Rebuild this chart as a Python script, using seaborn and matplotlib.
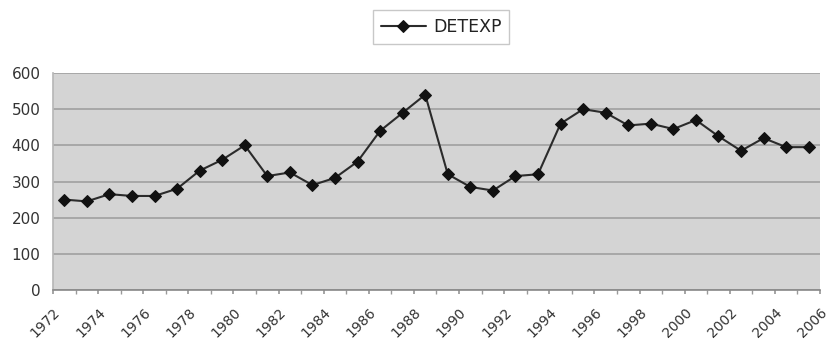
import matplotlib
matplotlib.use("Agg")
import matplotlib.pyplot as plt
import seaborn as sns
import pandas as pd
import numpy as np

years = list(range(1972, 2006))
detexp = [250, 245, 265, 260, 260, 280, 330, 360, 400, 315, 325, 290, 310, 355,
          440, 490, 540, 320, 285, 275, 315, 320, 460, 500, 490, 455, 460, 445,
          470, 425, 385, 420, 395, 395]
tick_years = list(range(1972, 2007, 2))
y_ticks = [0, 100, 200, 300, 400, 500, 600]

df = pd.DataFrame({"idx": np.arange(len(years)), "year": years, "DETEXP": detexp})

sns.set_theme(style="white")
plt.rcParams["font.family"] = ["DejaVu Sans"]

fig = plt.figure(figsize=(8.29, 3.47), dpi=100)
ax = fig.add_axes([53 / 829, 1 - 290 / 347, (820 - 53) / 829, (290 - 73) / 347])
ax.set_facecolor("#d4d4d4")

sns.lineplot(data=df, x="idx", y="DETEXP", ax=ax, color="#2b2b2b", linewidth=1.5,
             marker="D", markersize=6, markeredgecolor="#111111",
             markerfacecolor="#111111", label="DETEXP")

ax.set_xlim(-0.5, len(years) - 0.5)
ax.set_ylim(0, 600)
ax.set_yticks(y_ticks)
ax.set_yticklabels([str(v) for v in y_ticks], fontsize=11, color="#333333")
ax.yaxis.grid(True, color="#a4a4a4", linewidth=1.3)
ax.set_axisbelow(True)

tick_pos = [-0.5 + 2 * k for k in range(len(tick_years))]
ax.set_xticks(tick_pos)
ax.set_xticklabels([str(y) for y in tick_years], rotation=45, ha="right",
                   va="top", rotation_mode="anchor", fontsize=10, color="#333333")
ax.set_xticks(np.arange(-0.5, len(years), 1), minor=True)
ax.tick_params(axis="x", which="both", length=3, color="#999999", direction="out",
               pad=8, bottom=True)
ax.tick_params(axis="y", length=0, pad=9)
ax.set_xlabel("")
ax.set_ylabel("")

for s in ["top", "right"]:
    ax.spines[s].set_visible(False)
ax.spines["left"].set_color("#b8b8b8")
ax.spines["bottom"].set_color("#888888")
ax.spines["bottom"].set_linewidth(1.2)

leg = ax.legend(loc="center", bbox_to_anchor=(441 / 829, 1 - 27 / 347),
                bbox_transform=fig.transFigure, fontsize=12.5, frameon=True,
                fancybox=False, edgecolor="#bbbbbb", handlelength=2.6,
                handletextpad=0.4, borderpad=0.45)
leg.get_frame().set_linewidth(1.0)
for t in leg.get_texts():
    t.set_color("#222222")

fig.savefig("out.png", dpi=100)
